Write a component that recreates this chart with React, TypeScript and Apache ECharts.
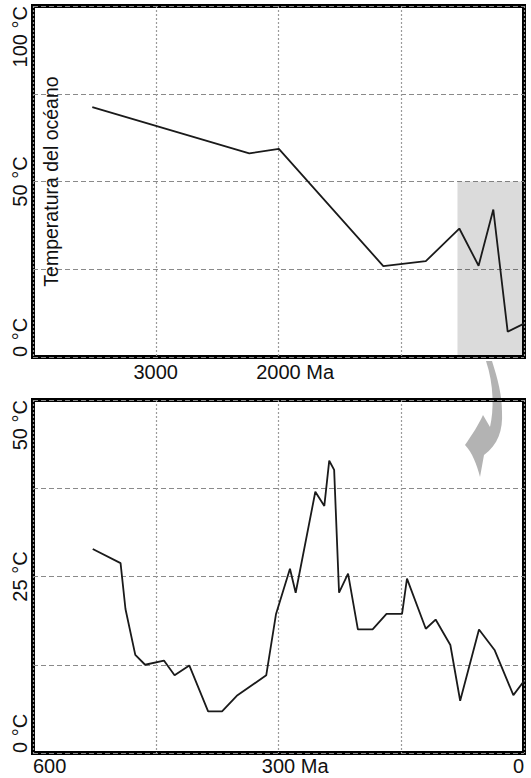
import React, { useEffect, useRef } from 'react';
import * as echarts from 'echarts';

// ---- data (ages in Ma, temperatures in °C) ----
const topAges = [3517, 2238, 1997, 1146, 800, 527, 370, 250, 133, 0];
const topTemps = [71.2, 58.0, 59.3, 25.9, 27.3, 36.6, 26.0, 42.0, 7.2, 9.5];

const bottomAges = [527, 493, 487, 475, 463, 440, 427, 409, 386, 369, 351, 315, 303, 286, 279, 255, 244, 238, 232, 226, 215, 203, 185, 168, 149, 143, 120, 108, 90, 78, 55, 36, 13, 0];
const bottomTemps = [28.9, 26.9, 20.4, 13.9, 12.5, 13.1, 11.0, 12.4, 5.9, 5.9, 8.1, 11.0, 19.7, 26.1, 22.7, 37.0, 35.0, 41.4, 40.1, 22.7, 25.4, 17.5, 17.5, 19.7, 19.7, 24.7, 17.6, 18.9, 15.3, 7.4, 17.5, 14.6, 8.2, 10.2];

const topXTicks = [3000, 2000];
const topXUnitTick = 2000;
const bottomXTicks = [600, 300, 0];
const bottomXUnitTick = 300;
const topYTicks = [0, 50, 100];
const bottomYTicks = [0, 25, 50];
const highlightRange = [542, 0];
const highlightTempMax = 50;
const yTitle = 'Temperatura del océano';
const unit = ' Ma';
const degree = ' °C';

const FONT = "'Liberation Sans', Arial, sans-serif";
const FS = 20;

const arrowD =
  'M 486 361 L 492 361 C 498 380 502 395 502 412 C 503 430 498 445 484 455 L 480 477 C 477 465 472 452 465 445 C 472 435 479 424 483 415 L 490 427 C 494 410 494 385 486 361 Z';

export default function App() {
  const ref = useRef<HTMLDivElement>(null);
  useEffect(() => {
    if (!ref.current) return;
    try {
      echarts.graphic.registerShape('arrowShape', echarts.graphic.extendPath(arrowD, {}));
    } catch (e) {}
    const ctx = document.createElement('canvas').getContext('2d')!;
    ctx.font = `${FS}px ${FONT}`;
    const padW = ctx.measureText(unit).width;

    const chart = echarts.init(ref.current, undefined, { renderer: 'svg' });
    const textBase = { fontFamily: FONT, fontSize: FS, color: '#111' };
    const rich = {
      p: { ...textBase, width: padW },
      v: { ...textBase },
      u: { ...textBase },
    };
    const xLabel = (ticks: number[], unitTick: number) => (v: number) => {
      if (!ticks.includes(v)) return '';
      if (v === unitTick) return `{p|\u00a0}{v|${v}}{u|${unit}}`;
      return `{v|${v}}`;
    };
    const yLabel = (ticks: number[]) => (v: number) => (ticks.includes(v) ? `${v}${degree}` : '');

    const gridCommon = {
      show: true,
      borderColor: '#000',
      borderWidth: 4,
      left: 33,
      right: 7,
      containLabel: false,
      outerBoundsMode: 'none',
    };
    const vSplit = { show: true, lineStyle: { color: '#9a9a9a', width: 1.2, type: [2, 2] } };
    const hSplit = { show: true, lineStyle: { color: '#8a8a8a', width: 1.2, type: [5, 3] } };

    chart.setOption({
      animation: false,
      backgroundColor: '#fff',
      grid: [
        { ...gridCommon, top: 6, height: 351 },
        { ...gridCommon, top: 400, height: 353 },
      ],
      xAxis: [
        {
          gridIndex: 0, type: 'value', inverse: true, min: 0, max: 4000, interval: 1000,
          axisLine: { show: false }, axisTick: { show: false }, splitLine: vSplit,
          axisLabel: { ...textBase, margin: 5, formatter: xLabel(topXTicks, topXUnitTick), rich },
        },
        {
          gridIndex: 1, type: 'value', inverse: true, min: 0, max: 600, interval: 150,
          axisLine: { show: false }, axisTick: { show: false }, splitLine: vSplit,
          axisLabel: {
            ...textBase, margin: 3, formatter: xLabel(bottomXTicks, bottomXUnitTick), rich,
            showMinLabel: true, showMaxLabel: true, alignMaxLabel: 'left', alignMinLabel: 'right',
          },
        },
      ],
      yAxis: [
        {
          gridIndex: 0, type: 'value', min: 0, max: 100, interval: 25,
          axisLine: { show: false }, axisTick: { show: false }, splitLine: hSplit,
          axisLabel: {
            ...textBase, rotate: 90, margin: 3, formatter: yLabel(topYTicks),
            showMinLabel: true, showMaxLabel: true, alignMinLabel: 'left', alignMaxLabel: 'right',
          },
          name: yTitle, nameLocation: 'middle', nameRotate: 90, nameGap: -28,
          nameMoveOverlap: false,
          nameTextStyle: { ...textBase, fontSize: 19.5 },
        },
        {
          gridIndex: 1, type: 'value', min: 0, max: 50, interval: 12.5,
          axisLine: { show: false }, axisTick: { show: false }, splitLine: hSplit,
          axisLabel: {
            ...textBase, rotate: 90, margin: 3, formatter: yLabel(bottomYTicks),
            showMinLabel: true, showMaxLabel: true, alignMinLabel: 'left', alignMaxLabel: 'right',
          },
        },
      ],
      graphic: [
        { type: 'arrowShape', x: 0, y: 0, z: -10, style: { fill: '#b3b3b3' }, silent: true },
      ],
      series: [
        {
          type: 'line', xAxisIndex: 0, yAxisIndex: 0, symbol: 'none',
          data: topAges.map((a, i) => [a, topTemps[i]]),
          lineStyle: { color: '#1a1a1a', width: 1.8 },
          markArea: {
            silent: true,
            itemStyle: { color: 'rgba(0,0,0,0.14)' },
            data: [[{ xAxis: highlightRange[0], yAxis: 0 }, { xAxis: highlightRange[1], yAxis: highlightTempMax }]],
          },
        },
        {
          type: 'line', xAxisIndex: 1, yAxisIndex: 1, symbol: 'none',
          data: bottomAges.map((a, i) => [a, bottomTemps[i]]),
          lineStyle: { color: '#1a1a1a', width: 1.8 },
        },
      ],
    });
    return () => chart.dispose();
  }, []);
  return <div ref={ref} style={{ position: 'absolute', left: 0, top: 0, width: 531, height: 778 }} />;
}
